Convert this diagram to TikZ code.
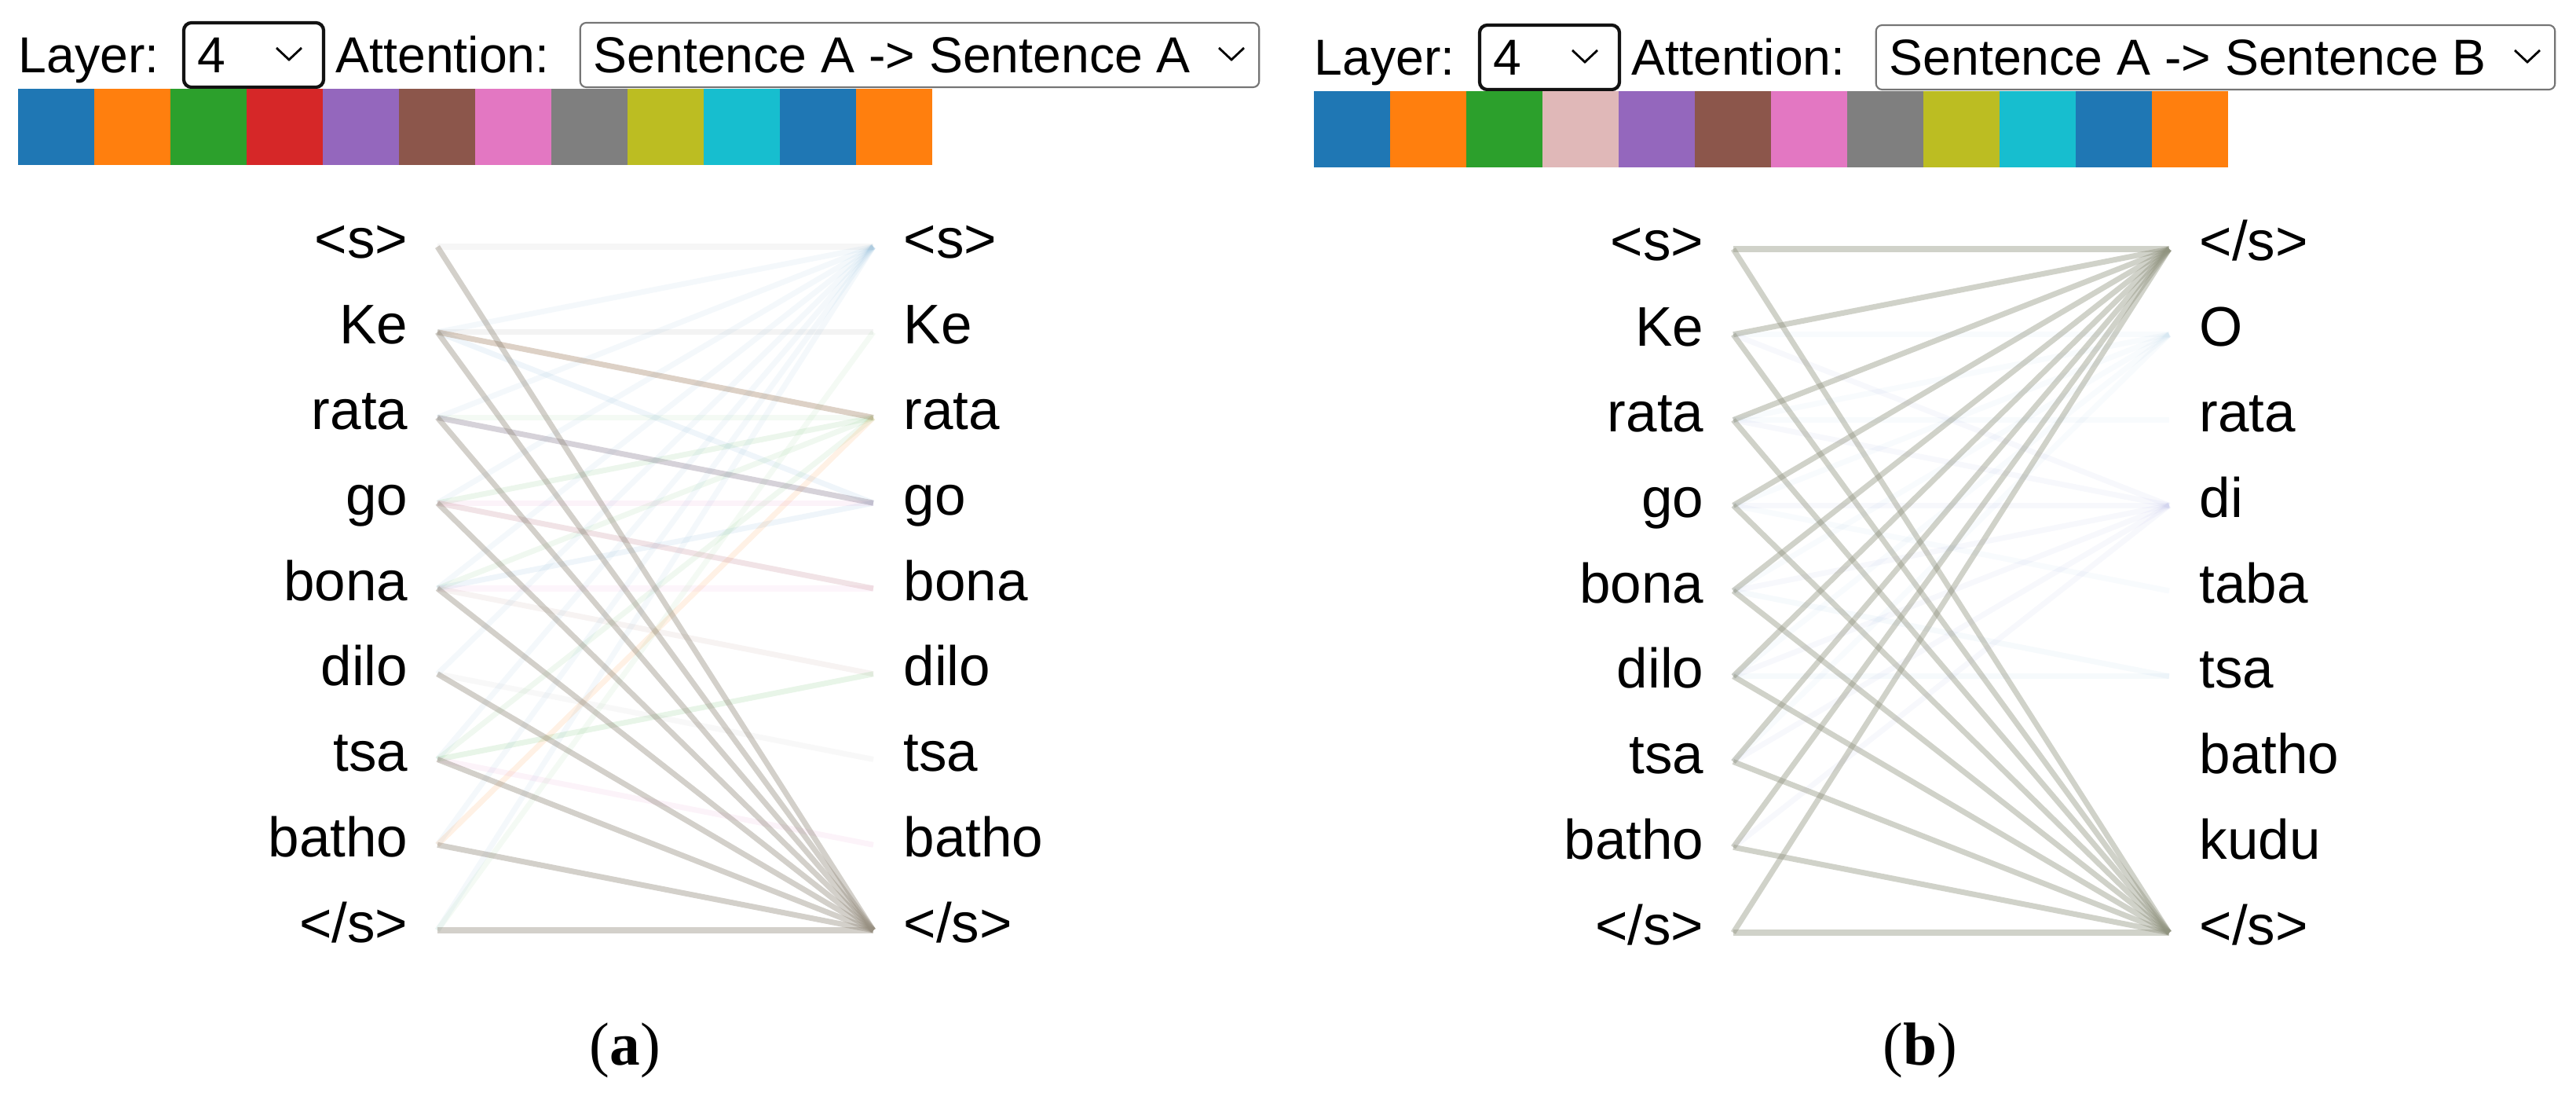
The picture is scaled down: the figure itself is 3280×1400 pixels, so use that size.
\documentclass[tikz,border=0pt]{standalone}
\usepackage{fontspec}
\setmainfont{Liberation Sans}
\newfontfamily\capfont{Liberation Serif}

\definecolor{tabblue}{HTML}{1F77B4}
\definecolor{taborange}{HTML}{FF7F0E}
\definecolor{tabgreen}{HTML}{2CA02C}
\definecolor{tabred}{HTML}{D62728}
\definecolor{tabpurple}{HTML}{9467BD}
\definecolor{tabbrown}{HTML}{8C564B}
\definecolor{tabpink}{HTML}{E377C2}
\definecolor{tabgray}{HTML}{7F7F7F}
\definecolor{tabolive}{HTML}{BCBD22}
\definecolor{tabcyan}{HTML}{17BECF}
\definecolor{palered}{HTML}{E0B8B8}
\definecolor{linkmix}{HTML}{968E80}
\definecolor{linkmixb}{HTML}{90937F}
\definecolor{kerata}{HTML}{A98B70}
\definecolor{ratago}{HTML}{8A7E92}
\definecolor{gobona}{HTML}{C9909A}
\definecolor{lavender}{HTML}{7F84D0}

\begin{document}
\begin{tikzpicture}[x=0.01cm, y=-0.01cm,
		hdr/.style = {font=\fontsize{18.3}{22}\selectfont, inner sep=0pt, anchor=base west},
		tokl/.style = {font=\fontsize{20.2}{24}\selectfont, inner sep=0pt, anchor=base east},
		tokr/.style = {font=\fontsize{20.2}{24}\selectfont, inner sep=0pt, anchor=base west},
		selfocus/.style = {draw=black!93, line width=1.2pt, rounded corners=2.8pt, minimum width=1.78cm, minimum height=0.82cm, inner sep=0pt},
		selbox/.style = {draw=black!54, line width=0.6pt, rounded corners=2.2pt, minimum width=8.64cm, minimum height=0.82cm, inner sep=0pt},
		chev/.style = {line width=0.8pt},
		attn/.style = {line width=2pt, draw=linkmix, draw opacity=0.42},
		attnb/.style = {line width=2pt, draw=linkmixb, draw opacity=0.42},
		faint/.style = {line width=2pt, draw opacity=0.07},
		capt/.style = {font=\capfont\fontsize{22}{26}\selectfont, inner sep=0pt, anchor=base}
	]
	\useasboundingbox (0,0) rectangle (3280,1400);

	% ---- panel (a) ----
	\node[hdr] (layera) at (23,93) {Layer:};
	\node[selfocus] (layerselecta) at (323,70) {};
	\node[hdr] (layernuma) at (251,93) {4};
	\draw[chev] (352,61) -- (368,76) -- (384,61);
	\node[hdr] (attna) at (427,93) {Attention:};
	\node[selbox] (attnselecta) at (1171,70) {};
	\node[hdr] (sentsela) at (755,93) {Sentence A -> Sentence A};
	\draw[chev] (1552,61) -- (1568,76) -- (1584,61);

	\foreach \c [count=\k from 0] in {tabblue,taborange,tabgreen,tabred,tabpurple,tabbrown,tabpink,tabgray,tabolive,tabcyan,tabblue,taborange}
		\fill[\c] ({23+97*\k},113) rectangle ({120+97*\k},210);

	\foreach \i in {0,...,8} {
		\coordinate (sa\i) at (557,{314+108.75*\i});
		\coordinate (ta\i) at (1112,{314+108.75*\i});
	}

	\node[tokl] (la0) at ([shift={(-37,15)}]sa0) {<s>};
	\node[tokl] (la1) at ([shift={(-37,15)}]sa1) {Ke};
	\node[tokl] (la2) at ([shift={(-37,15)}]sa2) {rata};
	\node[tokl] (la3) at ([shift={(-37,15)}]sa3) {go};
	\node[tokl] (la4) at ([shift={(-37,15)}]sa4) {bona};
	\node[tokl] (la5) at ([shift={(-37,15)}]sa5) {dilo};
	\node[tokl] (la6) at ([shift={(-37,15)}]sa6) {tsa};
	\node[tokl] (la7) at ([shift={(-37,15)}]sa7) {batho};
	\node[tokl] (la8) at ([shift={(-37,15)}]sa8) {</s>};

	\node[tokr] (ra0) at ([shift={(38,15)}]ta0) {<s>};
	\node[tokr] (ra1) at ([shift={(38,15)}]ta1) {Ke};
	\node[tokr] (ra2) at ([shift={(38,15)}]ta2) {rata};
	\node[tokr] (ra3) at ([shift={(38,15)}]ta3) {go};
	\node[tokr] (ra4) at ([shift={(38,15)}]ta4) {bona};
	\node[tokr] (ra5) at ([shift={(38,15)}]ta5) {dilo};
	\node[tokr] (ra6) at ([shift={(38,15)}]ta6) {tsa};
	\node[tokr] (ra7) at ([shift={(38,15)}]ta7) {batho};
	\node[tokr] (ra8) at ([shift={(38,15)}]ta8) {</s>};

	% weak heads
	\foreach \i in {1,...,8}
		\draw[faint, tabblue, draw opacity=0.05] (sa\i) -- (ta0);
	\draw[faint, tabgray] (sa0) -- (ta0);
	\draw[faint, tabgray, draw opacity=0.09] (sa1) -- (ta1);
	\draw[faint, tabblue] (sa1) -- (ta3);
	\draw[faint, tabgreen, draw opacity=0.05] (sa2) -- (ta2);
	\draw[faint, tabgreen, draw opacity=0.09] (sa3) -- (ta2);
	\draw[faint, tabgreen] (sa4) -- (ta2);
	\draw[faint, tabgreen] (sa6) -- (ta2);
	\draw[faint, taborange, draw opacity=0.11] (sa7) -- (ta2);
	\draw[faint, tabpink, draw opacity=0.09] (sa3) -- (ta3);
	\draw[faint, tabblue] (sa4) -- (ta3);
	\draw[faint, tabpink] (sa4) -- (ta4);
	\draw[faint, tabbrown] (sa4) -- (ta5);
	\draw[faint, tabgreen, draw opacity=0.11] (sa6) -- (ta5);
	\draw[faint, tabgray, draw opacity=0.05] (sa5) -- (ta6);
	\draw[faint, tabpink, draw opacity=0.09] (sa6) -- (ta7);
	\draw[faint, tabgreen, draw opacity=0.05] (sa8) -- (ta1);

	% strong links
	\draw[attn, draw=kerata, draw opacity=0.4] (sa1) -- (ta2);
	\draw[attn, draw=ratago, draw opacity=0.35] (sa2) -- (ta3);
	\draw[attn, draw=gobona, draw opacity=0.25] (sa3) -- (ta4);
	\foreach \i in {0,...,8}
		\draw[attn] (sa\i) -- (ta8);

	% ---- panel (b) ----
	\begin{scope}[shift={(1650,3)}]
		\node[hdr] (layerb) at (23,93) {Layer:};
		\node[selfocus] (layerselectb) at (323,70) {};
		\node[hdr] (layernumb) at (251,93) {4};
		\draw[chev] (352,61) -- (368,76) -- (384,61);
		\node[hdr] (attnb) at (427,93) {Attention:};
		\node[selbox] (attnselectb) at (1171,70) {};
		\node[hdr] (sentselb) at (755,93) {Sentence A -> Sentence B};
		\draw[chev] (1552,61) -- (1568,76) -- (1584,61);

		\foreach \c [count=\k from 0] in {tabblue,taborange,tabgreen,palered,tabpurple,tabbrown,tabpink,tabgray,tabolive,tabcyan,tabblue,taborange}
			\fill[\c] ({23+97*\k},113) rectangle ({120+97*\k},210);

		\foreach \i in {0,...,8} {
			\coordinate (sb\i) at (557,{314+108.75*\i});
			\coordinate (tb\i) at (1112,{314+108.75*\i});
		}

		\node[tokl] (lb0) at ([shift={(-37,15)}]sb0) {<s>};
		\node[tokl] (lb1) at ([shift={(-37,15)}]sb1) {Ke};
		\node[tokl] (lb2) at ([shift={(-37,15)}]sb2) {rata};
		\node[tokl] (lb3) at ([shift={(-37,15)}]sb3) {go};
		\node[tokl] (lb4) at ([shift={(-37,15)}]sb4) {bona};
		\node[tokl] (lb5) at ([shift={(-37,15)}]sb5) {dilo};
		\node[tokl] (lb6) at ([shift={(-37,15)}]sb6) {tsa};
		\node[tokl] (lb7) at ([shift={(-37,15)}]sb7) {batho};
		\node[tokl] (lb8) at ([shift={(-37,15)}]sb8) {</s>};

		\node[tokr] (rb0) at ([shift={(38,15)}]tb0) {</s>};
		\node[tokr] (rb1) at ([shift={(38,15)}]tb1) {O};
		\node[tokr] (rb2) at ([shift={(38,15)}]tb2) {rata};
		\node[tokr] (rb3) at ([shift={(38,15)}]tb3) {di};
		\node[tokr] (rb4) at ([shift={(38,15)}]tb4) {taba};
		\node[tokr] (rb5) at ([shift={(38,15)}]tb5) {tsa};
		\node[tokr] (rb6) at ([shift={(38,15)}]tb6) {batho};
		\node[tokr] (rb7) at ([shift={(38,15)}]tb7) {kudu};
		\node[tokr] (rb8) at ([shift={(38,15)}]tb8) {</s>};

		% weak heads
		\foreach \i in {1,...,7}
			\draw[faint, lavender, draw opacity=0.06] (sb\i) -- (tb3);
		\foreach \i in {1,...,6}
			\draw[faint, tabblue, draw opacity=0.03] (sb\i) -- (tb1);
		\draw[faint, tabblue, draw opacity=0.03] (sb2) -- (tb2);
		\draw[faint, tabblue, draw opacity=0.03] (sb3) -- (tb4);
		\draw[faint, tabblue, draw opacity=0.04] (sb4) -- (tb5);
		\draw[faint, tabblue, draw opacity=0.04] (sb5) -- (tb5);

		% strong links
		\foreach \i in {0,...,8} {
			\draw[attnb] (sb\i) -- (tb0);
			\draw[attnb] (sb\i) -- (tb8);
		}
	\end{scope}

	% captions
	\node[capt] (capa) at (796,1355) {(\textbf{a})};
	\node[capt] (capb) at (2445,1355) {(\textbf{b})};
\end{tikzpicture}
\end{document}
